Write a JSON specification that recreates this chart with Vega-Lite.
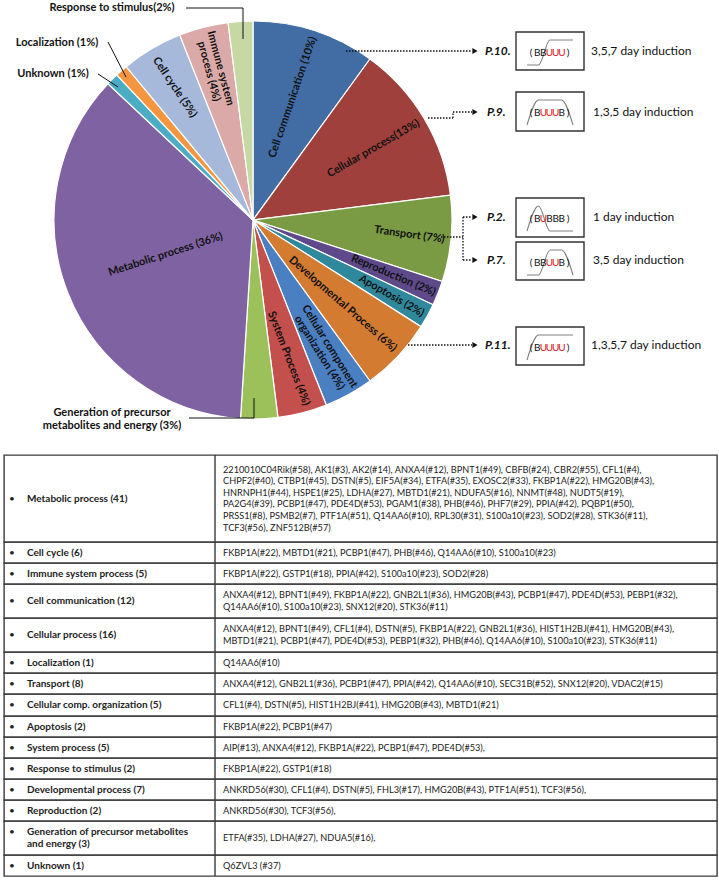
{
"$schema": "https://vega.github.io/schema/vega-lite/v6.json",
"padding": {"left": 3, "top": 0, "right": 0, "bottom": 0},
"spacing": 15,
"bounds": "flush",
"config": {"font": "Lato", "axis": {"disable": true}, "view": {"stroke": "#3a3a3a", "strokeWidth": 1.4}},
"datasets": {
"pie": [
{"ord": 1, "cat": "Cell communication", "pct": 10, "lab": "Cell communication (10%)"},
{"ord": 2, "cat": "Cellular process", "pct": 13, "lab": "Cellular process(13%)"},
{"ord": 3, "cat": "Transport", "pct": 7, "lab": "Transport (7%)"},
{"ord": 4, "cat": "Reproduction", "pct": 2, "lab": "Reproduction (2%)"},
{"ord": 5, "cat": "Apoptosis", "pct": 2, "lab": "Apoptosis (2%)"},
{"ord": 6, "cat": "Developmental Process", "pct": 6, "lab": "Developmental Process (6%)"},
{"ord": 7, "cat": "Cellular component organization", "pct": 4, "lab": "Cellular component\norganization (4%)"},
{"ord": 8, "cat": "System Process", "pct": 4, "lab": "System Process (4%)"},
{"ord": 9, "cat": "Generation of precursor metabolites and energy", "pct": 3, "lab": "Generation of precursor\nmetabolites and energy (3%)"},
{"ord": 10, "cat": "Metabolic process", "pct": 36, "lab": "Metabolic process (36%)"},
{"ord": 11, "cat": "Unknown", "pct": 1, "lab": "Unknown (1%)"},
{"ord": 12, "cat": "Localization", "pct": 1, "lab": "Localization (1%)"},
{"ord": 13, "cat": "Cell cycle", "pct": 5, "lab": "Cell cycle (5%)"},
{"ord": 14, "cat": "Immune system process", "pct": 4, "lab": "Immune system\nprocess (4%)"},
{"ord": 15, "cat": "Response to stimulus", "pct": 2, "lab": "Response to stimulus(2%)"}
],
"ind": [
{"p": "P.10.", "days": "3,5,7 day induction"},
{"p": "P.9.", "days": "1,3,5 day induction"},
{"p": "P.2.", "days": "1 day induction"},
{"p": "P.7.", "days": "3,5 day induction"},
{"p": "P.11.", "days": "1,3,5,7 day induction"}
],
"prof": [
{"p": "P.10.", "k": 0, "ch": "(", "lvl": null}, {"p": "P.10.", "k": 1, "ch": "B", "lvl": 0}, {"p": "P.10.", "k": 2, "ch": "B", "lvl": 0}, {"p": "P.10.", "k": 3, "ch": "U", "lvl": 1}, {"p": "P.10.", "k": 4, "ch": "U", "lvl": 1}, {"p": "P.10.", "k": 5, "ch": "U", "lvl": 1}, {"p": "P.10.", "k": 6, "ch": ")", "lvl": null},
{"p": "P.9.", "k": 0, "ch": "(", "lvl": null}, {"p": "P.9.", "k": 1, "ch": "B", "lvl": 0}, {"p": "P.9.", "k": 2, "ch": "U", "lvl": 1}, {"p": "P.9.", "k": 3, "ch": "U", "lvl": 1}, {"p": "P.9.", "k": 4, "ch": "U", "lvl": 1}, {"p": "P.9.", "k": 5, "ch": "B", "lvl": 0}, {"p": "P.9.", "k": 6, "ch": ")", "lvl": null},
{"p": "P.2.", "k": 0, "ch": "(", "lvl": null}, {"p": "P.2.", "k": 1, "ch": "B", "lvl": 0}, {"p": "P.2.", "k": 2, "ch": "U", "lvl": 1}, {"p": "P.2.", "k": 3, "ch": "B", "lvl": 0}, {"p": "P.2.", "k": 4, "ch": "B", "lvl": 0}, {"p": "P.2.", "k": 5, "ch": "B", "lvl": 0}, {"p": "P.2.", "k": 6, "ch": ")", "lvl": null},
{"p": "P.7.", "k": 0, "ch": "(", "lvl": null}, {"p": "P.7.", "k": 1, "ch": "B", "lvl": 0}, {"p": "P.7.", "k": 2, "ch": "B", "lvl": 0}, {"p": "P.7.", "k": 3, "ch": "U", "lvl": 1}, {"p": "P.7.", "k": 4, "ch": "U", "lvl": 1}, {"p": "P.7.", "k": 5, "ch": "B", "lvl": 0}, {"p": "P.7.", "k": 6, "ch": ")", "lvl": null},
{"p": "P.11.", "k": 0, "ch": "(", "lvl": null}, {"p": "P.11.", "k": 1, "ch": "B", "lvl": 0}, {"p": "P.11.", "k": 2, "ch": "U", "lvl": 1}, {"p": "P.11.", "k": 3, "ch": "U", "lvl": 1}, {"p": "P.11.", "k": 4, "ch": "U", "lvl": 1}, {"p": "P.11.", "k": 5, "ch": "U", "lvl": 1}, {"p": "P.11.", "k": 6, "ch": ")", "lvl": null}
],
"tbl": [
{"i": 1, "cat": "Metabolic process (41)", "genes": "2210010C04Rik(#58), AK1(#3), AK2(#14), ANXA4(#12), BPNT1(#49), CBFB(#24), CBR2(#55), CFL1(#4),\nCHPF2(#40), CTBP1(#45), DSTN(#5), EIF5A(#34), ETFA(#35), EXOSC2(#33), FKBP1A(#22), HMG20B(#43),\nHNRNPH1(#44), HSPE1(#25), LDHA(#27), MBTD1(#21), NDUFA5(#16), NNMT(#48), NUDT5(#19),\nPA2G4(#39), PCBP1(#47), PDE4D(#53), PGAM1(#38), PHB(#46), PHF7(#29), PPIA(#42), PQBP1(#50),\nPRSS1(#8), PSMB2(#7), PTF1A(#51), Q14AA6(#10), RPL30(#31), S100a10(#23), SOD2(#28), STK36(#11),\nTCF3(#56), ZNF512B(#57)"},
{"i": 2, "cat": "Cell cycle (6)", "genes": "FKBP1A(#22), MBTD1(#21), PCBP1(#47), PHB(#46), Q14AA6(#10), S100a10(#23)"},
{"i": 3, "cat": "Immune  system  process (5)", "genes": "FKBP1A(#22), GSTP1(#18), PPIA(#42), S100a10(#23), SOD2(#28)"},
{"i": 4, "cat": "Cell communication (12)", "genes": "ANXA4(#12), BPNT1(#49), FKBP1A(#22), GNB2L1(#36), HMG20B(#43), PCBP1(#47), PDE4D(#53), PEBP1(#32),\nQ14AA6(#10), S100a10(#23), SNX12(#20), STK36(#11)"},
{"i": 5, "cat": "Cellular process (16)", "genes": "ANXA4(#12), BPNT1(#49), CFL1(#4), DSTN(#5), FKBP1A(#22), GNB2L1(#36), HIST1H2BJ(#41), HMG20B(#43),\nMBTD1(#21), PCBP1(#47), PDE4D(#53), PEBP1(#32), PHB(#46), Q14AA6(#10), S100a10(#23), STK36(#11)"},
{"i": 6, "cat": "Localization  (1)", "genes": "Q14AA6(#10)"},
{"i": 7, "cat": "Transport  (8)", "genes": "ANXA4(#12), GNB2L1(#36), PCBP1(#47), PPIA(#42), Q14AA6(#10), SEC31B(#52), SNX12(#20), VDAC2(#15)"},
{"i": 8, "cat": "Cellular comp. organization (5)", "genes": "CFL1(#4), DSTN(#5), HIST1H2BJ(#41), HMG20B(#43), MBTD1(#21)"},
{"i": 9, "cat": "Apoptosis (2)", "genes": "FKBP1A(#22), PCBP1(#47)"},
{"i": 10, "cat": "System process (5)", "genes": "AIP(#13), ANXA4(#12), FKBP1A(#22), PCBP1(#47), PDE4D(#53),"},
{"i": 11, "cat": "Response to stimulus (2)", "genes": "FKBP1A(#22), GSTP1(#18)"},
{"i": 12, "cat": "Developmental process (7)", "genes": "ANKRD56(#30), CFL1(#4), DSTN(#5), FHL3(#17), HMG20B(#43), PTF1A(#51), TCF3(#56),"},
{"i": 13, "cat": "Reproduction  (2)", "genes": "ANKRD56(#30), TCF3(#56),"},
{"i": 14, "cat": "Generation of precursor metabolites\nand energy (3)", "genes": "ETFA(#35), LDHA(#27), NDUA5(#16),"},
{"i": 15, "cat": "Unknown (1)", "genes": "Q6ZVL3 (#37)"}
]
},
"vconcat": [
{
"width": 498, "height": 440,
"view": {"stroke": null},
"resolve": {"scale": {"x": "independent", "y": "independent"}},
"layer": [
{
"data": {"name": "pie"},
"encoding": {
"theta": {"field": "pct", "type": "quantitative", "stack": true},
"order": {"field": "ord", "type": "quantitative"},
"detail": {"field": "cat", "type": "nominal"}
},
"layer": [
{"mark": {"type": "arc", "radius": 199, "stroke": "white", "strokeWidth": 1.2},
 "encoding": {"color": {"field": "cat", "type": "nominal", "legend": null, "scale": {
 "domain": ["Cell communication", "Cellular process", "Transport", "Reproduction", "Apoptosis", "Developmental Process", "Cellular component organization", "System Process", "Generation of precursor metabolites and energy", "Metabolic process", "Unknown", "Localization", "Cell cycle", "Immune system process", "Response to stimulus"],
 "range": ["#416ca4", "#9f403d", "#7a9a44", "#5e4a8a", "#2f889c", "#d47b32", "#4a7fc1", "#c4504d", "#9dc15a", "#7f62a1", "#4bacc6", "#f5953f", "#a6b9db", "#dbaaa8", "#c6d8a4"]}}}},
{"mark": {"type": "text", "radius": 129, "angle": -71, "fontSize": 11, "fontWeight": "bold", "color": "#111"}, "encoding": {"text": {"condition": {"test": "datum.ord == 1", "field": "lab"}, "value": ""}}},
{"mark": {"type": "text", "radius": 140, "angle": -30, "fontSize": 11, "fontWeight": "bold", "color": "#111"}, "encoding": {"text": {"condition": {"test": "datum.ord == 2", "field": "lab"}, "value": ""}}},
{"mark": {"type": "text", "radius": 157, "angle": 8, "fontSize": 11, "fontWeight": "bold", "color": "#111"}, "encoding": {"text": {"condition": {"test": "datum.ord == 3", "field": "lab"}, "value": ""}}},
{"mark": {"type": "text", "radius": 151, "angle": 23, "fontSize": 11, "fontWeight": "bold", "color": "#111"}, "encoding": {"text": {"condition": {"test": "datum.ord == 4", "field": "lab"}, "value": ""}}},
{"mark": {"type": "text", "radius": 158, "angle": 30, "fontSize": 11, "fontWeight": "bold", "color": "#111"}, "encoding": {"text": {"condition": {"test": "datum.ord == 5", "field": "lab"}, "value": ""}}},
{"mark": {"type": "text", "radius": 123, "angle": 41, "fontSize": 11, "fontWeight": "bold", "color": "#111"}, "encoding": {"text": {"condition": {"test": "datum.ord == 6", "field": "lab"}, "value": ""}}},
{"mark": {"type": "text", "radius": 148, "angle": 58, "dy": -6, "fontSize": 11, "fontWeight": "bold", "color": "#111", "lineBreak": "\n", "lineHeight": 12}, "encoding": {"text": {"condition": {"test": "datum.ord == 7", "field": "lab"}, "value": ""}}},
{"mark": {"type": "text", "radius": 143, "angle": 69, "fontSize": 11, "fontWeight": "bold", "color": "#111"}, "encoding": {"text": {"condition": {"test": "datum.ord == 8", "field": "lab"}, "value": ""}}},
{"mark": {"type": "text", "radius": 94, "angle": -18, "fontSize": 11, "fontWeight": "bold", "color": "#111"}, "encoding": {"text": {"condition": {"test": "datum.ord == 10", "field": "lab"}, "value": ""}}},
{"mark": {"type": "text", "radius": 154, "angle": 56, "fontSize": 11, "fontWeight": "bold", "color": "#111"}, "encoding": {"text": {"condition": {"test": "datum.ord == 13", "field": "lab"}, "value": ""}}},
{"mark": {"type": "text", "radius": 155, "angle": 75, "dy": -6, "fontSize": 11, "fontWeight": "bold", "color": "#111", "lineBreak": "\n", "lineHeight": 12}, "encoding": {"text": {"condition": {"test": "datum.ord == 14", "field": "lab"}, "value": ""}}}
]
},
{
"data": {"values": [{}]},
"layer": [
{"mark": {"type": "rule", "color": "#111", "strokeWidth": 1}, "encoding": {"x": {"datum": 185, "type": "quantitative", "scale": {"domain": [3, 501], "nice": false, "zero": false}, "axis": null}, "x2": {"datum": 242}, "y": {"datum": 8, "type": "quantitative", "scale": {"domain": [0, 440], "nice": false, "zero": false, "reverse": true}, "axis": null}, "y2": {"datum": 8}}},
{"mark": {"type": "rule", "color": "#111", "strokeWidth": 1}, "encoding": {"x": {"datum": 242}, "x2": {"datum": 242}, "y": {"datum": 8}, "y2": {"datum": 39}}},
{"mark": {"type": "rule", "color": "#111", "strokeWidth": 1}, "encoding": {"x": {"datum": 107}, "x2": {"datum": 125}, "y": {"datum": 42}, "y2": {"datum": 77}}},
{"mark": {"type": "rule", "color": "#111", "strokeWidth": 1}, "encoding": {"x": {"datum": 97}, "x2": {"datum": 117}, "y": {"datum": 74}, "y2": {"datum": 87}}},
{"mark": {"type": "rule", "color": "#111", "strokeWidth": 1}, "encoding": {"x": {"datum": 188}, "x2": {"datum": 253}, "y": {"datum": 418}, "y2": {"datum": 418}}},
{"mark": {"type": "rule", "color": "#111", "strokeWidth": 1}, "encoding": {"x": {"datum": 253}, "x2": {"datum": 253}, "y": {"datum": 418}, "y2": {"datum": 398}}},
{"mark": {"type": "rule", "color": "#111", "strokeWidth": 1.3, "strokeDash": [1.5, 1.5]}, "encoding": {"x": {"datum": 345}, "x2": {"datum": 471}, "y": {"datum": 51}, "y2": {"datum": 51}}},
{"mark": {"type": "rule", "color": "#111", "strokeWidth": 1.3, "strokeDash": [1.5, 1.5]}, "encoding": {"x": {"datum": 427}, "x2": {"datum": 452}, "y": {"datum": 118}, "y2": {"datum": 118}}},
{"mark": {"type": "rule", "color": "#111", "strokeWidth": 1.3, "strokeDash": [1.5, 1.5]}, "encoding": {"x": {"datum": 452}, "x2": {"datum": 452}, "y": {"datum": 118}, "y2": {"datum": 112}}},
{"mark": {"type": "rule", "color": "#111", "strokeWidth": 1.3, "strokeDash": [1.5, 1.5]}, "encoding": {"x": {"datum": 452}, "x2": {"datum": 471}, "y": {"datum": 112}, "y2": {"datum": 112}}},
{"mark": {"type": "rule", "color": "#111", "strokeWidth": 1.3, "strokeDash": [1.5, 1.5]}, "encoding": {"x": {"datum": 440}, "x2": {"datum": 462}, "y": {"datum": 237}, "y2": {"datum": 237}}},
{"mark": {"type": "rule", "color": "#111", "strokeWidth": 1.3, "strokeDash": [1.5, 1.5]}, "encoding": {"x": {"datum": 462}, "x2": {"datum": 462}, "y": {"datum": 217}, "y2": {"datum": 260}}},
{"mark": {"type": "rule", "color": "#111", "strokeWidth": 1.3, "strokeDash": [1.5, 1.5]}, "encoding": {"x": {"datum": 462}, "x2": {"datum": 471}, "y": {"datum": 217}, "y2": {"datum": 217}}},
{"mark": {"type": "rule", "color": "#111", "strokeWidth": 1.3, "strokeDash": [1.5, 1.5]}, "encoding": {"x": {"datum": 462}, "x2": {"datum": 471}, "y": {"datum": 260}, "y2": {"datum": 260}}},
{"mark": {"type": "rule", "color": "#111", "strokeWidth": 1.3, "strokeDash": [1.5, 1.5]}, "encoding": {"x": {"datum": 407}, "x2": {"datum": 471}, "y": {"datum": 345}, "y2": {"datum": 345}}},
{"data": {"name": "pie"}, "transform": [{"filter": "datum.ord == 15"}], "mark": {"type": "text", "fontSize": 11, "fontWeight": "bold", "color": "#111"}, "encoding": {"x": {"datum": 111}, "y": {"datum": 8}, "text": {"field": "lab"}}},
{"data": {"name": "pie"}, "transform": [{"filter": "datum.ord == 12"}], "mark": {"type": "text", "fontSize": 11, "fontWeight": "bold", "color": "#111"}, "encoding": {"x": {"datum": 56}, "y": {"datum": 43}, "text": {"field": "lab"}}},
{"data": {"name": "pie"}, "transform": [{"filter": "datum.ord == 11"}], "mark": {"type": "text", "fontSize": 11, "fontWeight": "bold", "color": "#111"}, "encoding": {"x": {"datum": 52}, "y": {"datum": 74}, "text": {"field": "lab"}}},
{"data": {"name": "pie"}, "transform": [{"filter": "datum.ord == 9"}], "mark": {"type": "text", "fontSize": 11, "fontWeight": "bold", "color": "#111", "lineBreak": "\n", "lineHeight": 13, "dy": -6.5}, "encoding": {"x": {"datum": 111}, "y": {"datum": 419}, "text": {"field": "lab"}}},
{"data": {"name": "ind"}, "transform": [{"filter": "datum.p == 'P.10.'"}], "encoding": {"y": {"datum": 51}}, "layer": [
 {"mark": {"type": "rect", "fill": "white", "stroke": "#333", "strokeWidth": 1.4}, "encoding": {"x": {"datum": 515}, "x2": {"datum": 583}, "y": {"datum": 32}, "y2": {"datum": 70}}},
 {"mark": {"type": "point", "shape": "triangle-right", "filled": true, "color": "#111", "size": 36, "opacity": 1}, "encoding": {"x": {"datum": 474}}},
 {"mark": {"type": "text", "align": "left", "fontSize": 12, "fontWeight": "bold", "fontStyle": "italic", "color": "#111"}, "encoding": {"x": {"datum": 484}, "text": {"field": "p"}}},
 {"mark": {"type": "text", "align": "left", "fontSize": 12, "color": "#111"}, "encoding": {"x": {"datum": 590}, "text": {"field": "days"}}}
]},
{"data": {"name": "ind"}, "transform": [{"filter": "datum.p == 'P.9.'"}], "encoding": {"y": {"datum": 112}}, "layer": [
 {"mark": {"type": "rect", "fill": "white", "stroke": "#333", "strokeWidth": 1.4}, "encoding": {"x": {"datum": 515}, "x2": {"datum": 583}, "y": {"datum": 92}, "y2": {"datum": 131}}},
 {"mark": {"type": "point", "shape": "triangle-right", "filled": true, "color": "#111", "size": 36, "opacity": 1}, "encoding": {"x": {"datum": 474}}},
 {"mark": {"type": "text", "align": "left", "fontSize": 12, "fontWeight": "bold", "fontStyle": "italic", "color": "#111"}, "encoding": {"x": {"datum": 486}, "text": {"field": "p"}}},
 {"mark": {"type": "text", "align": "left", "fontSize": 12, "color": "#111"}, "encoding": {"x": {"datum": 592}, "text": {"field": "days"}}}
]},
{"data": {"name": "ind"}, "transform": [{"filter": "datum.p == 'P.2.'"}], "encoding": {"y": {"datum": 217}}, "layer": [
 {"mark": {"type": "rect", "fill": "white", "stroke": "#333", "strokeWidth": 1.4}, "encoding": {"x": {"datum": 515}, "x2": {"datum": 583}, "y": {"datum": 198}, "y2": {"datum": 237}}},
 {"mark": {"type": "point", "shape": "triangle-right", "filled": true, "color": "#111", "size": 36, "opacity": 1}, "encoding": {"x": {"datum": 474}}},
 {"mark": {"type": "text", "align": "left", "fontSize": 12, "fontWeight": "bold", "fontStyle": "italic", "color": "#111"}, "encoding": {"x": {"datum": 486}, "text": {"field": "p"}}},
 {"mark": {"type": "text", "align": "left", "fontSize": 12, "color": "#111"}, "encoding": {"x": {"datum": 592}, "text": {"field": "days"}}}
]},
{"data": {"name": "ind"}, "transform": [{"filter": "datum.p == 'P.7.'"}], "encoding": {"y": {"datum": 260}}, "layer": [
 {"mark": {"type": "rect", "fill": "white", "stroke": "#333", "strokeWidth": 1.4}, "encoding": {"x": {"datum": 515}, "x2": {"datum": 583}, "y": {"datum": 242}, "y2": {"datum": 280}}},
 {"mark": {"type": "point", "shape": "triangle-right", "filled": true, "color": "#111", "size": 36, "opacity": 1}, "encoding": {"x": {"datum": 474}}},
 {"mark": {"type": "text", "align": "left", "fontSize": 12, "fontWeight": "bold", "fontStyle": "italic", "color": "#111"}, "encoding": {"x": {"datum": 486}, "text": {"field": "p"}}},
 {"mark": {"type": "text", "align": "left", "fontSize": 12, "color": "#111"}, "encoding": {"x": {"datum": 592}, "text": {"field": "days"}}}
]},
{"data": {"name": "ind"}, "transform": [{"filter": "datum.p == 'P.11.'"}], "encoding": {"y": {"datum": 345}}, "layer": [
 {"mark": {"type": "rect", "fill": "white", "stroke": "#333", "strokeWidth": 1.4}, "encoding": {"x": {"datum": 515}, "x2": {"datum": 583}, "y": {"datum": 327}, "y2": {"datum": 365}}},
 {"mark": {"type": "point", "shape": "triangle-right", "filled": true, "color": "#111", "size": 36, "opacity": 1}, "encoding": {"x": {"datum": 474}}},
 {"mark": {"type": "text", "align": "left", "fontSize": 12, "fontWeight": "bold", "fontStyle": "italic", "color": "#111"}, "encoding": {"x": {"datum": 484}, "text": {"field": "p"}}},
 {"mark": {"type": "text", "align": "left", "fontSize": 12, "color": "#111"}, "encoding": {"x": {"datum": 590}, "text": {"field": "days"}}}
]}
]
},
{"data": {"name": "prof"}, "transform": [{"filter": "datum.p == 'P.10.'"}], "resolve": {"scale": {"x": "independent"}}, "layer": [
 {"transform": [{"filter": "isValid(datum.lvl)"}], "mark": {"type": "line", "interpolate": "monotone", "color": "#808080", "strokeWidth": 1.1}, "encoding": {"x": {"field": "k", "type": "quantitative", "scale": {"domain": [1, 5], "range": [523, 569]}, "axis": null}, "y": {"field": "lvl", "type": "quantitative", "scale": {"domain": [0, 1], "range": [65, 40]}, "axis": null}}},
 {"transform": [{"filter": "datum.ch != 'U'"}], "mark": {"type": "text", "fontSize": 10, "color": "#111"}, "encoding": {"x": {"field": "k", "type": "quantitative", "scale": {"domain": [0, 6], "range": [527, 564]}, "axis": null}, "y": {"datum": 0.5}, "text": {"field": "ch"}}},
 {"transform": [{"filter": "datum.ch == 'U'"}], "mark": {"type": "text", "fontSize": 10, "color": "#e3161d"}, "encoding": {"x": {"field": "k", "type": "quantitative", "scale": {"domain": [0, 6], "range": [527, 564]}, "axis": null}, "y": {"datum": 0.5}, "text": {"field": "ch"}}}
]},
{"data": {"name": "prof"}, "transform": [{"filter": "datum.p == 'P.9.'"}], "resolve": {"scale": {"x": "independent"}}, "layer": [
 {"transform": [{"filter": "isValid(datum.lvl)"}], "mark": {"type": "line", "interpolate": "monotone", "color": "#808080", "strokeWidth": 1.1}, "encoding": {"x": {"field": "k", "type": "quantitative", "scale": {"domain": [1, 5], "range": [523, 569]}, "axis": null}, "y": {"field": "lvl", "type": "quantitative", "scale": {"domain": [0, 1], "range": [125, 100]}, "axis": null}}},
 {"transform": [{"filter": "datum.ch != 'U'"}], "mark": {"type": "text", "fontSize": 10, "color": "#111"}, "encoding": {"x": {"field": "k", "type": "quantitative", "scale": {"domain": [0, 6], "range": [527, 564]}, "axis": null}, "y": {"datum": 0.5}, "text": {"field": "ch"}}},
 {"transform": [{"filter": "datum.ch == 'U'"}], "mark": {"type": "text", "fontSize": 10, "color": "#e3161d"}, "encoding": {"x": {"field": "k", "type": "quantitative", "scale": {"domain": [0, 6], "range": [527, 564]}, "axis": null}, "y": {"datum": 0.5}, "text": {"field": "ch"}}}
]},
{"data": {"name": "prof"}, "transform": [{"filter": "datum.p == 'P.2.'"}], "resolve": {"scale": {"x": "independent"}}, "layer": [
 {"transform": [{"filter": "isValid(datum.lvl)"}], "mark": {"type": "line", "interpolate": "monotone", "color": "#808080", "strokeWidth": 1.1}, "encoding": {"x": {"field": "k", "type": "quantitative", "scale": {"domain": [1, 5], "range": [523, 569]}, "axis": null}, "y": {"field": "lvl", "type": "quantitative", "scale": {"domain": [0, 1], "range": [231, 206]}, "axis": null}}},
 {"transform": [{"filter": "datum.ch != 'U'"}], "mark": {"type": "text", "fontSize": 10, "color": "#111"}, "encoding": {"x": {"field": "k", "type": "quantitative", "scale": {"domain": [0, 6], "range": [527, 564]}, "axis": null}, "y": {"datum": 0.5}, "text": {"field": "ch"}}},
 {"transform": [{"filter": "datum.ch == 'U'"}], "mark": {"type": "text", "fontSize": 10, "color": "#e3161d"}, "encoding": {"x": {"field": "k", "type": "quantitative", "scale": {"domain": [0, 6], "range": [527, 564]}, "axis": null}, "y": {"datum": 0.5}, "text": {"field": "ch"}}}
]},
{"data": {"name": "prof"}, "transform": [{"filter": "datum.p == 'P.7.'"}], "resolve": {"scale": {"x": "independent"}}, "layer": [
 {"transform": [{"filter": "isValid(datum.lvl)"}], "mark": {"type": "line", "interpolate": "monotone", "color": "#808080", "strokeWidth": 1.1}, "encoding": {"x": {"field": "k", "type": "quantitative", "scale": {"domain": [1, 5], "range": [523, 569]}, "axis": null}, "y": {"field": "lvl", "type": "quantitative", "scale": {"domain": [0, 1], "range": [275, 250]}, "axis": null}}},
 {"transform": [{"filter": "datum.ch != 'U'"}], "mark": {"type": "text", "fontSize": 10, "color": "#111"}, "encoding": {"x": {"field": "k", "type": "quantitative", "scale": {"domain": [0, 6], "range": [527, 564]}, "axis": null}, "y": {"datum": 0.5}, "text": {"field": "ch"}}},
 {"transform": [{"filter": "datum.ch == 'U'"}], "mark": {"type": "text", "fontSize": 10, "color": "#e3161d"}, "encoding": {"x": {"field": "k", "type": "quantitative", "scale": {"domain": [0, 6], "range": [527, 564]}, "axis": null}, "y": {"datum": 0.5}, "text": {"field": "ch"}}}
]},
{"data": {"name": "prof"}, "transform": [{"filter": "datum.p == 'P.11.'"}], "resolve": {"scale": {"x": "independent"}}, "layer": [
 {"transform": [{"filter": "isValid(datum.lvl)"}], "mark": {"type": "line", "interpolate": "monotone", "color": "#808080", "strokeWidth": 1.1}, "encoding": {"x": {"field": "k", "type": "quantitative", "scale": {"domain": [1, 5], "range": [523, 569]}, "axis": null}, "y": {"field": "lvl", "type": "quantitative", "scale": {"domain": [0, 1], "range": [360, 335]}, "axis": null}}},
 {"transform": [{"filter": "datum.ch != 'U'"}], "mark": {"type": "text", "fontSize": 10, "color": "#111"}, "encoding": {"x": {"field": "k", "type": "quantitative", "scale": {"domain": [0, 6], "range": [527, 564]}, "axis": null}, "y": {"datum": 0.5}, "text": {"field": "ch"}}},
 {"transform": [{"filter": "datum.ch == 'U'"}], "mark": {"type": "text", "fontSize": 10, "color": "#e3161d"}, "encoding": {"x": {"field": "k", "type": "quantitative", "scale": {"domain": [0, 6], "range": [527, 564]}, "axis": null}, "y": {"datum": 0.5}, "text": {"field": "ch"}}}
]}
]
},
{
"spacing": 0,
"bounds": "flush",
"vconcat": [
{"height": 87, "width": 713, "data": {"name": "tbl"}, "transform": [{"filter": "datum.i == 1"}], "layer": [
 {"mark": {"type": "rule", "color": "#3a3a3a", "strokeWidth": 1.4}, "encoding": {"x": {"datum": 211, "type": "quantitative", "scale": {"domain": [0, 713], "nice": false, "zero": false}, "axis": null}}},
 {"mark": {"type": "text", "text": "•", "fontSize": 10, "color": "#222"}, "encoding": {"x": {"datum": 8}, "y": {"datum": 0.5, "type": "quantitative", "scale": {"domain": [0, 1], "nice": false}, "axis": null}}},
 {"mark": {"type": "text", "align": "left", "fontSize": 10, "fontWeight": "bold", "color": "#222", "lineBreak": "\n", "lineHeight": 12.5}, "encoding": {"x": {"datum": 23}, "y": {"datum": 0.5}, "text": {"field": "cat"}}},
 {"mark": {"type": "text", "align": "left", "fontSize": 9.2, "color": "#222", "lineBreak": "\n", "lineHeight": 11.6, "dy": -29}, "encoding": {"x": {"datum": 219}, "y": {"datum": 0.5}, "text": {"field": "genes"}}}
]},
{"height": 21, "width": 713, "data": {"name": "tbl"}, "transform": [{"filter": "datum.i == 2"}], "layer": [
 {"mark": {"type": "rule", "color": "#3a3a3a", "strokeWidth": 1.4}, "encoding": {"x": {"datum": 211, "type": "quantitative", "scale": {"domain": [0, 713], "nice": false, "zero": false}, "axis": null}}},
 {"mark": {"type": "text", "text": "•", "fontSize": 10, "color": "#222"}, "encoding": {"x": {"datum": 8}, "y": {"datum": 0.5, "type": "quantitative", "scale": {"domain": [0, 1], "nice": false}, "axis": null}}},
 {"mark": {"type": "text", "align": "left", "fontSize": 10, "fontWeight": "bold", "color": "#222", "lineBreak": "\n", "lineHeight": 12.5}, "encoding": {"x": {"datum": 23}, "y": {"datum": 0.5}, "text": {"field": "cat"}}},
 {"mark": {"type": "text", "align": "left", "fontSize": 9.2, "color": "#222", "lineBreak": "\n", "lineHeight": 11.6}, "encoding": {"x": {"datum": 219}, "y": {"datum": 0.5}, "text": {"field": "genes"}}}
]},
{"height": 21, "width": 713, "data": {"name": "tbl"}, "transform": [{"filter": "datum.i == 3"}], "layer": [
 {"mark": {"type": "rule", "color": "#3a3a3a", "strokeWidth": 1.4}, "encoding": {"x": {"datum": 211, "type": "quantitative", "scale": {"domain": [0, 713], "nice": false, "zero": false}, "axis": null}}},
 {"mark": {"type": "text", "text": "•", "fontSize": 10, "color": "#222"}, "encoding": {"x": {"datum": 8}, "y": {"datum": 0.5, "type": "quantitative", "scale": {"domain": [0, 1], "nice": false}, "axis": null}}},
 {"mark": {"type": "text", "align": "left", "fontSize": 10, "fontWeight": "bold", "color": "#222", "lineBreak": "\n", "lineHeight": 12.5}, "encoding": {"x": {"datum": 23}, "y": {"datum": 0.5}, "text": {"field": "cat"}}},
 {"mark": {"type": "text", "align": "left", "fontSize": 9.2, "color": "#222", "lineBreak": "\n", "lineHeight": 11.6}, "encoding": {"x": {"datum": 219}, "y": {"datum": 0.5}, "text": {"field": "genes"}}}
]},
{"height": 34, "width": 713, "data": {"name": "tbl"}, "transform": [{"filter": "datum.i == 4"}], "layer": [
 {"mark": {"type": "rule", "color": "#3a3a3a", "strokeWidth": 1.4}, "encoding": {"x": {"datum": 211, "type": "quantitative", "scale": {"domain": [0, 713], "nice": false, "zero": false}, "axis": null}}},
 {"mark": {"type": "text", "text": "•", "fontSize": 10, "color": "#222"}, "encoding": {"x": {"datum": 8}, "y": {"datum": 0.5, "type": "quantitative", "scale": {"domain": [0, 1], "nice": false}, "axis": null}}},
 {"mark": {"type": "text", "align": "left", "fontSize": 10, "fontWeight": "bold", "color": "#222", "lineBreak": "\n", "lineHeight": 12.5}, "encoding": {"x": {"datum": 23}, "y": {"datum": 0.5}, "text": {"field": "cat"}}},
 {"mark": {"type": "text", "align": "left", "fontSize": 9.2, "color": "#222", "lineBreak": "\n", "lineHeight": 11.6, "dy": -5.8}, "encoding": {"x": {"datum": 219}, "y": {"datum": 0.5}, "text": {"field": "genes"}}}
]},
{"height": 34, "width": 713, "data": {"name": "tbl"}, "transform": [{"filter": "datum.i == 5"}], "layer": [
 {"mark": {"type": "rule", "color": "#3a3a3a", "strokeWidth": 1.4}, "encoding": {"x": {"datum": 211, "type": "quantitative", "scale": {"domain": [0, 713], "nice": false, "zero": false}, "axis": null}}},
 {"mark": {"type": "text", "text": "•", "fontSize": 10, "color": "#222"}, "encoding": {"x": {"datum": 8}, "y": {"datum": 0.5, "type": "quantitative", "scale": {"domain": [0, 1], "nice": false}, "axis": null}}},
 {"mark": {"type": "text", "align": "left", "fontSize": 10, "fontWeight": "bold", "color": "#222", "lineBreak": "\n", "lineHeight": 12.5}, "encoding": {"x": {"datum": 23}, "y": {"datum": 0.5}, "text": {"field": "cat"}}},
 {"mark": {"type": "text", "align": "left", "fontSize": 9.2, "color": "#222", "lineBreak": "\n", "lineHeight": 11.6, "dy": -5.8}, "encoding": {"x": {"datum": 219}, "y": {"datum": 0.5}, "text": {"field": "genes"}}}
]},
{"height": 21, "width": 713, "data": {"name": "tbl"}, "transform": [{"filter": "datum.i == 6"}], "layer": [
 {"mark": {"type": "rule", "color": "#3a3a3a", "strokeWidth": 1.4}, "encoding": {"x": {"datum": 211, "type": "quantitative", "scale": {"domain": [0, 713], "nice": false, "zero": false}, "axis": null}}},
 {"mark": {"type": "text", "text": "•", "fontSize": 10, "color": "#222"}, "encoding": {"x": {"datum": 8}, "y": {"datum": 0.5, "type": "quantitative", "scale": {"domain": [0, 1], "nice": false}, "axis": null}}},
 {"mark": {"type": "text", "align": "left", "fontSize": 10, "fontWeight": "bold", "color": "#222", "lineBreak": "\n", "lineHeight": 12.5}, "encoding": {"x": {"datum": 23}, "y": {"datum": 0.5}, "text": {"field": "cat"}}},
 {"mark": {"type": "text", "align": "left", "fontSize": 9.2, "color": "#222", "lineBreak": "\n", "lineHeight": 11.6}, "encoding": {"x": {"datum": 219}, "y": {"datum": 0.5}, "text": {"field": "genes"}}}
]},
{"height": 21, "width": 713, "data": {"name": "tbl"}, "transform": [{"filter": "datum.i == 7"}], "layer": [
 {"mark": {"type": "rule", "color": "#3a3a3a", "strokeWidth": 1.4}, "encoding": {"x": {"datum": 211, "type": "quantitative", "scale": {"domain": [0, 713], "nice": false, "zero": false}, "axis": null}}},
 {"mark": {"type": "text", "text": "•", "fontSize": 10, "color": "#222"}, "encoding": {"x": {"datum": 8}, "y": {"datum": 0.5, "type": "quantitative", "scale": {"domain": [0, 1], "nice": false}, "axis": null}}},
 {"mark": {"type": "text", "align": "left", "fontSize": 10, "fontWeight": "bold", "color": "#222", "lineBreak": "\n", "lineHeight": 12.5}, "encoding": {"x": {"datum": 23}, "y": {"datum": 0.5}, "text": {"field": "cat"}}},
 {"mark": {"type": "text", "align": "left", "fontSize": 9.2, "color": "#222", "lineBreak": "\n", "lineHeight": 11.6}, "encoding": {"x": {"datum": 219}, "y": {"datum": 0.5}, "text": {"field": "genes"}}}
]},
{"height": 22, "width": 713, "data": {"name": "tbl"}, "transform": [{"filter": "datum.i == 8"}], "layer": [
 {"mark": {"type": "rule", "color": "#3a3a3a", "strokeWidth": 1.4}, "encoding": {"x": {"datum": 211, "type": "quantitative", "scale": {"domain": [0, 713], "nice": false, "zero": false}, "axis": null}}},
 {"mark": {"type": "text", "text": "•", "fontSize": 10, "color": "#222"}, "encoding": {"x": {"datum": 8}, "y": {"datum": 0.5, "type": "quantitative", "scale": {"domain": [0, 1], "nice": false}, "axis": null}}},
 {"mark": {"type": "text", "align": "left", "fontSize": 10, "fontWeight": "bold", "color": "#222", "lineBreak": "\n", "lineHeight": 12.5}, "encoding": {"x": {"datum": 23}, "y": {"datum": 0.5}, "text": {"field": "cat"}}},
 {"mark": {"type": "text", "align": "left", "fontSize": 9.2, "color": "#222", "lineBreak": "\n", "lineHeight": 11.6}, "encoding": {"x": {"datum": 219}, "y": {"datum": 0.5}, "text": {"field": "genes"}}}
]},
{"height": 21, "width": 713, "data": {"name": "tbl"}, "transform": [{"filter": "datum.i == 9"}], "layer": [
 {"mark": {"type": "rule", "color": "#3a3a3a", "strokeWidth": 1.4}, "encoding": {"x": {"datum": 211, "type": "quantitative", "scale": {"domain": [0, 713], "nice": false, "zero": false}, "axis": null}}},
 {"mark": {"type": "text", "text": "•", "fontSize": 10, "color": "#222"}, "encoding": {"x": {"datum": 8}, "y": {"datum": 0.5, "type": "quantitative", "scale": {"domain": [0, 1], "nice": false}, "axis": null}}},
 {"mark": {"type": "text", "align": "left", "fontSize": 10, "fontWeight": "bold", "color": "#222", "lineBreak": "\n", "lineHeight": 12.5}, "encoding": {"x": {"datum": 23}, "y": {"datum": 0.5}, "text": {"field": "cat"}}},
 {"mark": {"type": "text", "align": "left", "fontSize": 9.2, "color": "#222", "lineBreak": "\n", "lineHeight": 11.6}, "encoding": {"x": {"datum": 219}, "y": {"datum": 0.5}, "text": {"field": "genes"}}}
]},
{"height": 21, "width": 713, "data": {"name": "tbl"}, "transform": [{"filter": "datum.i == 10"}], "layer": [
 {"mark": {"type": "rule", "color": "#3a3a3a", "strokeWidth": 1.4}, "encoding": {"x": {"datum": 211, "type": "quantitative", "scale": {"domain": [0, 713], "nice": false, "zero": false}, "axis": null}}},
 {"mark": {"type": "text", "text": "•", "fontSize": 10, "color": "#222"}, "encoding": {"x": {"datum": 8}, "y": {"datum": 0.5, "type": "quantitative", "scale": {"domain": [0, 1], "nice": false}, "axis": null}}},
 {"mark": {"type": "text", "align": "left", "fontSize": 10, "fontWeight": "bold", "color": "#222", "lineBreak": "\n", "lineHeight": 12.5}, "encoding": {"x": {"datum": 23}, "y": {"datum": 0.5}, "text": {"field": "cat"}}},
 {"mark": {"type": "text", "align": "left", "fontSize": 9.2, "color": "#222", "lineBreak": "\n", "lineHeight": 11.6}, "encoding": {"x": {"datum": 219}, "y": {"datum": 0.5}, "text": {"field": "genes"}}}
]},
{"height": 21, "width": 713, "data": {"name": "tbl"}, "transform": [{"filter": "datum.i == 11"}], "layer": [
 {"mark": {"type": "rule", "color": "#3a3a3a", "strokeWidth": 1.4}, "encoding": {"x": {"datum": 211, "type": "quantitative", "scale": {"domain": [0, 713], "nice": false, "zero": false}, "axis": null}}},
 {"mark": {"type": "text", "text": "•", "fontSize": 10, "color": "#222"}, "encoding": {"x": {"datum": 8}, "y": {"datum": 0.5, "type": "quantitative", "scale": {"domain": [0, 1], "nice": false}, "axis": null}}},
 {"mark": {"type": "text", "align": "left", "fontSize": 10, "fontWeight": "bold", "color": "#222", "lineBreak": "\n", "lineHeight": 12.5}, "encoding": {"x": {"datum": 23}, "y": {"datum": 0.5}, "text": {"field": "cat"}}},
 {"mark": {"type": "text", "align": "left", "fontSize": 9.2, "color": "#222", "lineBreak": "\n", "lineHeight": 11.6}, "encoding": {"x": {"datum": 219}, "y": {"datum": 0.5}, "text": {"field": "genes"}}}
]},
{"height": 21, "width": 713, "data": {"name": "tbl"}, "transform": [{"filter": "datum.i == 12"}], "layer": [
 {"mark": {"type": "rule", "color": "#3a3a3a", "strokeWidth": 1.4}, "encoding": {"x": {"datum": 211, "type": "quantitative", "scale": {"domain": [0, 713], "nice": false, "zero": false}, "axis": null}}},
 {"mark": {"type": "text", "text": "•", "fontSize": 10, "color": "#222"}, "encoding": {"x": {"datum": 8}, "y": {"datum": 0.5, "type": "quantitative", "scale": {"domain": [0, 1], "nice": false}, "axis": null}}},
 {"mark": {"type": "text", "align": "left", "fontSize": 10, "fontWeight": "bold", "color": "#222", "lineBreak": "\n", "lineHeight": 12.5}, "encoding": {"x": {"datum": 23}, "y": {"datum": 0.5}, "text": {"field": "cat"}}},
 {"mark": {"type": "text", "align": "left", "fontSize": 9.2, "color": "#222", "lineBreak": "\n", "lineHeight": 11.6}, "encoding": {"x": {"datum": 219}, "y": {"datum": 0.5}, "text": {"field": "genes"}}}
]},
{"height": 21, "width": 713, "data": {"name": "tbl"}, "transform": [{"filter": "datum.i == 13"}], "layer": [
 {"mark": {"type": "rule", "color": "#3a3a3a", "strokeWidth": 1.4}, "encoding": {"x": {"datum": 211, "type": "quantitative", "scale": {"domain": [0, 713], "nice": false, "zero": false}, "axis": null}}},
 {"mark": {"type": "text", "text": "•", "fontSize": 10, "color": "#222"}, "encoding": {"x": {"datum": 8}, "y": {"datum": 0.5, "type": "quantitative", "scale": {"domain": [0, 1], "nice": false}, "axis": null}}},
 {"mark": {"type": "text", "align": "left", "fontSize": 10, "fontWeight": "bold", "color": "#222", "lineBreak": "\n", "lineHeight": 12.5}, "encoding": {"x": {"datum": 23}, "y": {"datum": 0.5}, "text": {"field": "cat"}}},
 {"mark": {"type": "text", "align": "left", "fontSize": 9.2, "color": "#222", "lineBreak": "\n", "lineHeight": 11.6}, "encoding": {"x": {"datum": 219}, "y": {"datum": 0.5}, "text": {"field": "genes"}}}
]},
{"height": 34, "width": 713, "data": {"name": "tbl"}, "transform": [{"filter": "datum.i == 14"}], "layer": [
 {"mark": {"type": "rule", "color": "#3a3a3a", "strokeWidth": 1.4}, "encoding": {"x": {"datum": 211, "type": "quantitative", "scale": {"domain": [0, 713], "nice": false, "zero": false}, "axis": null}}},
 {"mark": {"type": "text", "text": "•", "fontSize": 10, "color": "#222"}, "encoding": {"x": {"datum": 8}, "y": {"datum": 0.68, "type": "quantitative", "scale": {"domain": [0, 1], "nice": false}, "axis": null}}},
 {"mark": {"type": "text", "align": "left", "fontSize": 10, "fontWeight": "bold", "color": "#222", "lineBreak": "\n", "lineHeight": 12.5, "dy": -6.25}, "encoding": {"x": {"datum": 23}, "y": {"datum": 0.5}, "text": {"field": "cat"}}},
 {"mark": {"type": "text", "align": "left", "fontSize": 9.2, "color": "#222", "lineBreak": "\n", "lineHeight": 11.6}, "encoding": {"x": {"datum": 219}, "y": {"datum": 0.5}, "text": {"field": "genes"}}}
]},
{"height": 21, "width": 713, "data": {"name": "tbl"}, "transform": [{"filter": "datum.i == 15"}], "layer": [
 {"mark": {"type": "rule", "color": "#3a3a3a", "strokeWidth": 1.4}, "encoding": {"x": {"datum": 211, "type": "quantitative", "scale": {"domain": [0, 713], "nice": false, "zero": false}, "axis": null}}},
 {"mark": {"type": "text", "text": "•", "fontSize": 10, "color": "#222"}, "encoding": {"x": {"datum": 8}, "y": {"datum": 0.5, "type": "quantitative", "scale": {"domain": [0, 1], "nice": false}, "axis": null}}},
 {"mark": {"type": "text", "align": "left", "fontSize": 10, "fontWeight": "bold", "color": "#222", "lineBreak": "\n", "lineHeight": 12.5}, "encoding": {"x": {"datum": 23}, "y": {"datum": 0.5}, "text": {"field": "cat"}}},
 {"mark": {"type": "text", "align": "left", "fontSize": 9.2, "color": "#222", "lineBreak": "\n", "lineHeight": 11.6}, "encoding": {"x": {"datum": 219}, "y": {"datum": 0.5}, "text": {"field": "genes"}}}
]}
]
}
]
}
